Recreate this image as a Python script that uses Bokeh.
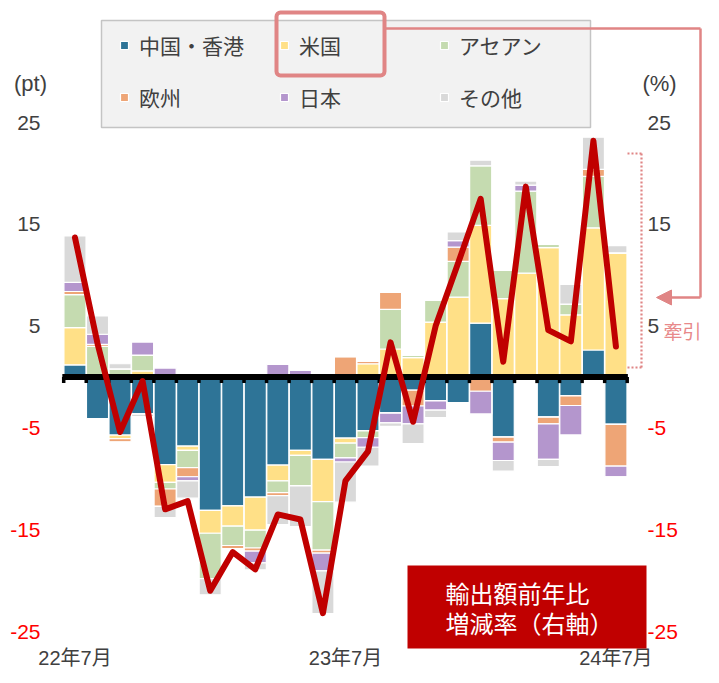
from bokeh.plotting import figure
from bokeh.models import (ColumnDataSource, Legend, LegendItem, Label, BoxAnnotation,
                          Arrow, NormalHead, Range1d)
from bokeh.embed import file_html
from bokeh.resources import INLINE

# ---------------- data ----------------
months = ["2022-07", "2022-08", "2022-09", "2022-10", "2022-11", "2022-12",
          "2023-01", "2023-02", "2023-03", "2023-04", "2023-05", "2023-06",
          "2023-07", "2023-08", "2023-09", "2023-10", "2023-11", "2023-12",
          "2024-01", "2024-02", "2024-03", "2024-04", "2024-05", "2024-06",
          "2024-07"]
tick_months = ["2022-07", "2023-07", "2024-07"]
tick_labels = ["22年7月", "23年7月", "24年7月"]
y_ticks = [25, 15, 5, -5, -15, -25]

series = ["中国・香港", "米国", "アセアン", "欧州", "日本", "その他"]
keys = ["cn", "us", "asean", "eu", "jp", "other"]

# positive contributions (pt)
cn_pos    = [1.2, 0, 0, 0, 0, 0, 0, 0, 0, 0, 0, 0, 0, 0, 0, 0, 0, 0, 5.3, 0, 0, 0, 0, 2.65, 0]
us_pos    = [3.65, 0, 0, 0.6, 0, 0, 0, 0, 0, 0, 0, 0, 0, 1.3, 2.75, 1.9, 5.4, 7.85, 9.6, 7.7, 10.2, 12.7, 6.1, 12.0, 12.2]
asean_pos = [3.25, 3.0, 0.8, 1.55, 0, 0, 0, 0, 0, 0, 0, 0, 0, 0, 3.9, 0.25, 2.15, 3.5, 5.85, 2.8, 8.05, 0.35, 1.05, 5.05, 0]
eu_pos    = [0.3, 0.2, 0, 0, 0, 0, 0, 0, 0, 0, 0, 0, 2.0, 0.25, 1.65, 0, 0, 1.4, 0, 0, 0, 0, 0, 0.7, 0]
jp_pos    = [0.9, 1.0, 0, 1.3, 0.9, 0, 0.25, 0, 0, 1.25, 0.65, 0, 0, 0, 0, 0, 0, 0.65, 0, 0, 0.6, 0, 0, 0, 0]
other_pos = [4.55, 1.8, 0.5, 0, 0, 0, 0, 0, 0, 0, 0, 0, 0, 0, 0, 0, 0, 0.85, 0.55, 0, 0.4, 0, 1.95, 3.15, 0.7]

# negative contributions (pt)
cn_neg    = [0, -4.1, -5.7, -3.65, -8.6, -6.8, -13.1, -12.65, -11.8, -8.65, -7.2, -8.1, -6.0, -5.3, -3.55, -1.3, -2.35, -2.55, 0, -5.9, 0, -3.95, -1.85, 0, -4.65]
us_neg    = [0, 0, -0.35, 0, -1.75, -0.4, -2.25, -2.0, -3.25, -1.55, -0.5, -4.15, -0.5, 0, 0, 0, 0, 0, 0, 0, 0, 0, 0, 0, 0]
asean_neg = [0, 0, 0, 0, -0.65, -1.7, -4.45, -1.9, -1.75, -1.15, -3.0, -4.75, -1.45, -0.65, 0, 0, 0, 0, 0, 0, 0, 0, 0, 0, 0]
eu_neg    = [0, 0, -0.35, 0, -1.7, -0.9, 0, -0.3, -0.3, -0.3, 0, -0.3, 0, 0, 0, -1.55, 0, 0, -1.4, -0.5, 0, -0.65, -0.95, 0, -4.1]
jp_neg    = [0, 0, 0, 0, 0, -0.4, 0, 0, -1.15, 0, 0, -1.75, -0.4, -0.95, -0.95, -1.75, -0.9, 0, -2.25, -1.8, 0, -3.5, -2.9, 0, -1.05]
other_neg = [0, 0, 0, -0.25, -1.1, -1.7, -1.6, 0, -0.7, -2.85, -4.0, -4.2, -3.95, -1.85, -0.35, -1.95, -0.75, 0, 0, -1.05, 0, -0.7, 0, 0, 0]

# export growth rate, y/y (%, right axis)
growth = [13.7, 3.3, -5.4, -0.4, -13.0, -12.2, -21.0, -17.2, -18.9, -13.5, -14.0, -23.2,
          -10.2, -7.3, 3.4, -4.4, 5.0, 11.2, 17.5, 1.5, 18.7, 4.6, 3.5, 23.2, 3.0]

colors = ["#2E7497", "#FFE087", "#C5DBB0", "#EEA576", "#B496CD", "#D9D9D9"]

# ---------------- layout (pixels) ----------------
FONT = "Liberation Sans, Noto Sans CJK JP"
JFONT = "Noto Sans CJK JP"
TXT = "#404040"
PINK = "#E08585"
W, H = 703, 667                    # canvas = plotting frame
PX_L, PX_R = 63.2, 626.7           # px of first / last category boundary
PX_TOP, PX_BOT = 122.0, 631.0      # px of value 25 / -25
V_TOP, V_BOT = 25.0, -25.0

x = list(range(len(months)))
x_lo, x_hi = x[0] - 0.5, x[-1] + 0.5
px_per_x = (PX_R - PX_L) / (x_hi - x_lo)
px_per_y = (PX_BOT - PX_TOP) / (V_TOP - V_BOT)
X_START = x_lo - PX_L / px_per_x
X_END = X_START + W / px_per_x
Y_END = V_TOP + PX_TOP / px_per_y
Y_START = Y_END - H / px_per_y

def dx(px):
    return X_START + px / px_per_x

def dy(py):
    return Y_END - py / px_per_y

tick_idx = [months.index(m) for m in tick_months]

p = figure(frame_width=W, frame_height=H, min_border=0,
           x_range=Range1d(X_START, X_END), y_range=Range1d(Y_START, Y_END),
           x_axis_location=None, y_axis_location=None,
           output_backend="svg", toolbar_location=None)
p.extra_y_ranges = {"pct": Range1d(Y_START, Y_END)}
p.xgrid.visible = False
p.ygrid.visible = False
p.outline_line_color = None
p.background_fill_color = "white"
p.border_fill_color = "white"

# ---------------- bars ----------------
src_pos = ColumnDataSource(dict(x=x, cn=cn_pos, us=us_pos, asean=asean_pos,
                                eu=eu_pos, jp=jp_pos, other=other_pos))
src_neg = ColumnDataSource(dict(x=x, cn=cn_neg, us=us_neg, asean=asean_neg,
                                eu=eu_neg, jp=jp_neg, other=other_neg))
pos_r = p.vbar_stack(keys, x="x", width=0.98, source=src_pos, fill_color=colors,
                     line_color="white", line_width=1.2)
neg_r = p.vbar_stack(keys, x="x", width=0.98, source=src_neg, fill_color=colors,
                     line_color="white", line_width=1.2)

# zero line with category tick marks
bounds = [i - 0.5 for i in x] + [x[-1] + 0.5]
p.segment(x0=[x_lo - 0.06], y0=[0], x1=[x_hi + 0.03], y1=[0], line_color="black", line_width=6)
p.segment(x0=bounds, y0=[0] * len(bounds), x1=bounds, y1=[-0.6] * len(bounds),
          line_color="black", line_width=3.5)

# growth line (right axis, %)
p.line(x=x, y=growth, y_range_name="pct", line_color="#C00000", line_width=6,
       line_join="round", line_cap="round")

# ---------------- axis texts ----------------
for t in y_ticks:
    c = "#FF0000" if t < 0 else TXT
    p.add_layout(Label(x=dx(40), y=t, text=str(t), text_align="right",
                       text_baseline="middle", text_color=c, text_font=FONT,
                       text_font_size="21px"))
    p.add_layout(Label(x=dx(647), y=t, text=str(t), text_align="left",
                       text_baseline="middle", text_color=c, text_font=FONT,
                       text_font_size="21px"))
for i, lab in zip(tick_idx, tick_labels):
    p.add_layout(Label(x=i, y=dy(657), text=lab, text_align="center",
                       text_baseline="middle", text_color=TXT, text_font=FONT,
                       text_font_size="20px"))
p.add_layout(Label(x=dx(30), y=dy(83), text="(pt)", text_align="center",
                   text_baseline="middle", text_color=TXT, text_font=FONT,
                   text_font_size="22px"))
p.add_layout(Label(x=dx(659), y=dy(83), text="(%)", text_align="center",
                   text_baseline="middle", text_color=TXT, text_font=FONT,
                   text_font_size="22px"))

# ---------------- legend ----------------
# legend frame drawn underneath so that the highlight can sit on top of it
p.add_layout(BoxAnnotation(left=dx(101), right=dx(590), top=dy(20), bottom=dy(127),
                           fill_color="#F2F2F2", fill_alpha=1, line_color="#C4C4C4",
                           line_alpha=1, line_width=1.5, level="underlay"))
legend = Legend(items=[LegendItem(label=s, renderers=[r]) for s, r in zip(series, pos_r)],
                orientation="horizontal", ncols=3, location=(119, H - 112),
                glyph_width=10, glyph_height=10, label_standoff=10, label_width=118,
                spacing=22, padding=15, margin=0,
                label_text_font=JFONT, label_text_font_size="21px", label_text_color=TXT,
                background_fill_alpha=0, border_line_color=None)
p.add_layout(legend, "center")

# highlight around 米国 and connector arrow
p.add_layout(BoxAnnotation(left=dx(276), right=dx(384), top=dy(12), bottom=dy(75),
                           fill_alpha=0, line_color=PINK, line_alpha=1, line_width=4,
                           border_radius=4, level="overlay"))
p.add_layout(Arrow(x_start=dx(384), y_start=dy(28), x_end=dx(700), y_end=dy(28),
                   start=None, end=None, line_color=PINK, line_width=2.5, level="overlay"))
p.add_layout(Arrow(x_start=dx(700), y_start=dy(28), x_end=dx(700), y_end=dy(297),
                   start=None, end=None, line_color=PINK, line_width=2.5, level="overlay"))
p.add_layout(Arrow(x_start=dx(700), y_start=dy(297), x_end=dx(656), y_end=dy(297),
                   start=None, end=NormalHead(size=15, fill_color=PINK, line_color=PINK),
                   line_color=PINK, line_width=2.5, level="overlay"))
# dotted bracket
for (xa, ya, xb, yb) in [(627, 153, 641, 153), (641, 153, 641, 367), (641, 367, 627, 367)]:
    p.add_layout(Arrow(x_start=dx(xa), y_start=dy(ya), x_end=dx(xb), y_end=dy(yb),
                       start=None, end=None, line_color=PINK, line_width=2.2,
                       line_dash="2 2"))
p.add_layout(Label(x=dx(663), y=dy(330), text="牽引", text_align="left",
                   text_baseline="middle", text_color="#E8898A", text_font=JFONT,
                   text_font_size="19px"))

# red caption box
p.add_layout(BoxAnnotation(left=dx(407), right=dx(646), top=dy(565), bottom=dy(648),
                           fill_color="#C00000", fill_alpha=1, line_color=None))
p.add_layout(Label(x=dx(445), y=dy(592), text="輸出額前年比",
                   text_align="left", text_baseline="middle", text_color="white",
                   text_font=JFONT, text_font_size="24px"))
p.add_layout(Label(x=dx(445), y=dy(622), text="増減率（右軸）",
                   text_align="left", text_baseline="middle", text_color="white",
                   text_font=JFONT, text_font_size="24px"))

open("out.html", "w").write(file_html(p, INLINE, title="chart"))
